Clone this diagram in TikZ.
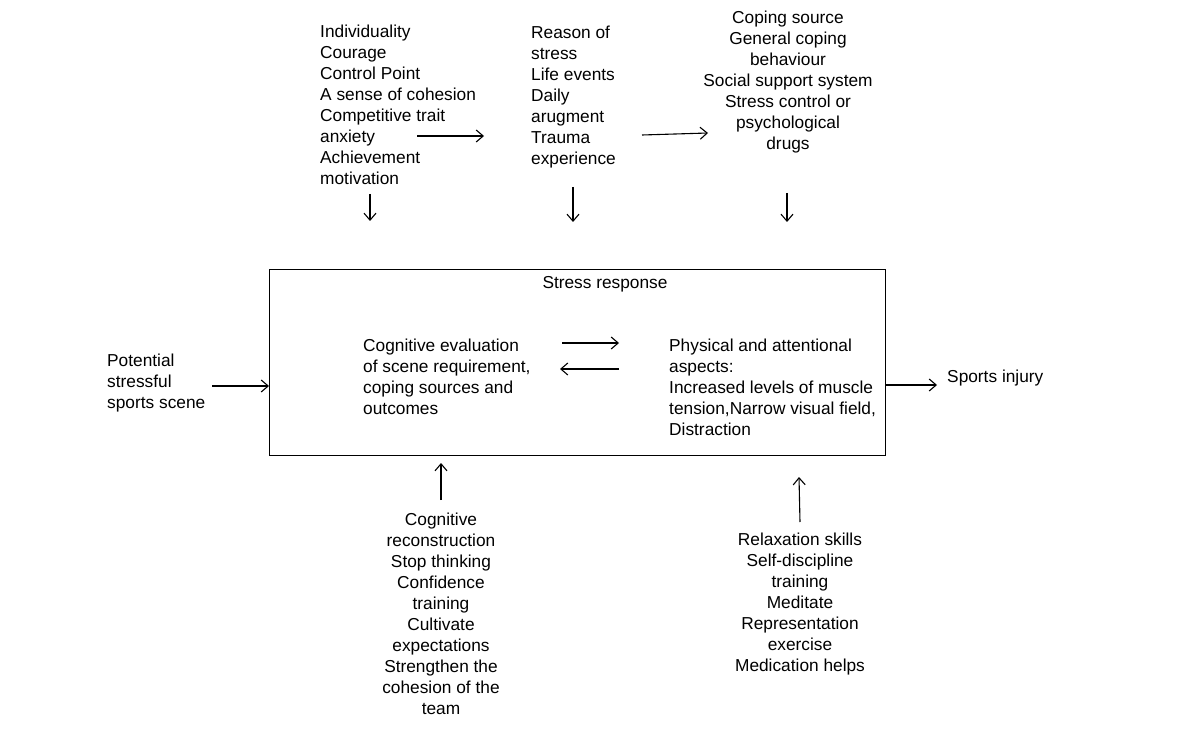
\documentclass[tikz,border=0pt]{standalone}
\usepackage{fontspec}
\setmainfont{Liberation Sans}
\usetikzlibrary{arrows.meta}
\begin{document}
\begin{tikzpicture}[x=1pt,y=-1pt,
  txt/.style={inner sep=0pt, font=\fontsize{17.3}{21}\selectfont, text=black},
  lt/.style={txt, align=left, anchor=base west},
  ct/.style={txt, align=center, anchor=base},
  arr/.style={line width=1.1pt, -{Straight Barb[length=7pt,width=12pt]}}]
\useasboundingbox (0,0) rectangle (1183,743);
% top blocks (anchor = baseline of last line)
\node[lt] (n1) at (320,185) {Individuality\\Courage\\Control Point\\A sense of cohesion\\Competitive trait\\anxiety\\Achievement\\motivation};
\node[lt] (n2) at (531,165) {Reason of\\stress\\Life events\\Daily\\arugment\\Trauma\\experience};
\node[ct] (n3) at (788,150) {Coping source\\General coping\\behaviour\\Social support system\\Stress control or\\psychological\\drugs};
% main box
\node[draw, line width=1pt, inner sep=0pt, minimum width=616pt, minimum height=186pt, anchor=north west] (box) at (269,269) {};
\node[ct] (sr) at (605,289) {Stress response};
\node[lt] (cog) at (363,414) {Cognitive evaluation\\of scene requirement,\\coping sources and\\outcomes};
\node[lt] (phys) at (669,435) {Physical and attentional\\aspects:\\Increased levels of muscle\\tension,Narrow visual field,\\Distraction};
% sides
\node[lt] (pot) at (107,408) {Potential\\stressful\\sports scene};
\node[lt] (inj) at (947,382) {Sports injury};
% bottom blocks
\node[ct] (bl) at (441,714) {Cognitive\\reconstruction\\Stop thinking\\Confidence\\training\\Cultivate\\expectations\\Strengthen the\\cohesion of the\\team};
\node[ct] (br) at (800,671) {Relaxation skills\\Self-discipline\\training\\Meditate\\Representation\\exercise\\Medication helps};
% arrow end points
\coordinate (a1s) at (417,136); \coordinate (a1e) at (484,136);
\coordinate (a2s) at (642,135); \coordinate (a2e) at (708,133);
\coordinate (d1s) at (370,194); \coordinate (d1e) at (370,221);
\coordinate (d2s) at (573,187); \coordinate (d2e) at (573,222);
\coordinate (d3s) at (787,193); \coordinate (d3e) at (787,222);
\coordinate (i1s) at (562,343); \coordinate (i1e) at (619,343);
\coordinate (i2s) at (619,369); \coordinate (i2e) at (560,369);
\coordinate (ps) at (212,386);
\coordinate (ie) at (937,385);
\coordinate (u1s) at (441,500); \coordinate (u1e) at (441,463);
\coordinate (u2s) at (800,522); \coordinate (u2e) at (799,477);
% arrows
\draw[arr] (a1s) -- (a1e);
\draw[arr] (a2s) -- (a2e);
\draw[arr] (d1s) -- (d1e);
\draw[arr] (d2s) -- (d2e);
\draw[arr] (d3s) -- (d3e);
\draw[arr] (i1s) -- (i1e);
\draw[arr] (i2s) -- (i2e);
\draw[arr] (ps) -- (ps -| box.west);
\draw[arr] (ie -| box.east) -- (ie);
\draw[arr] (u1s) -- (u1e);
\draw[arr] (u2s) -- (u2e);
\end{tikzpicture}
\end{document}
